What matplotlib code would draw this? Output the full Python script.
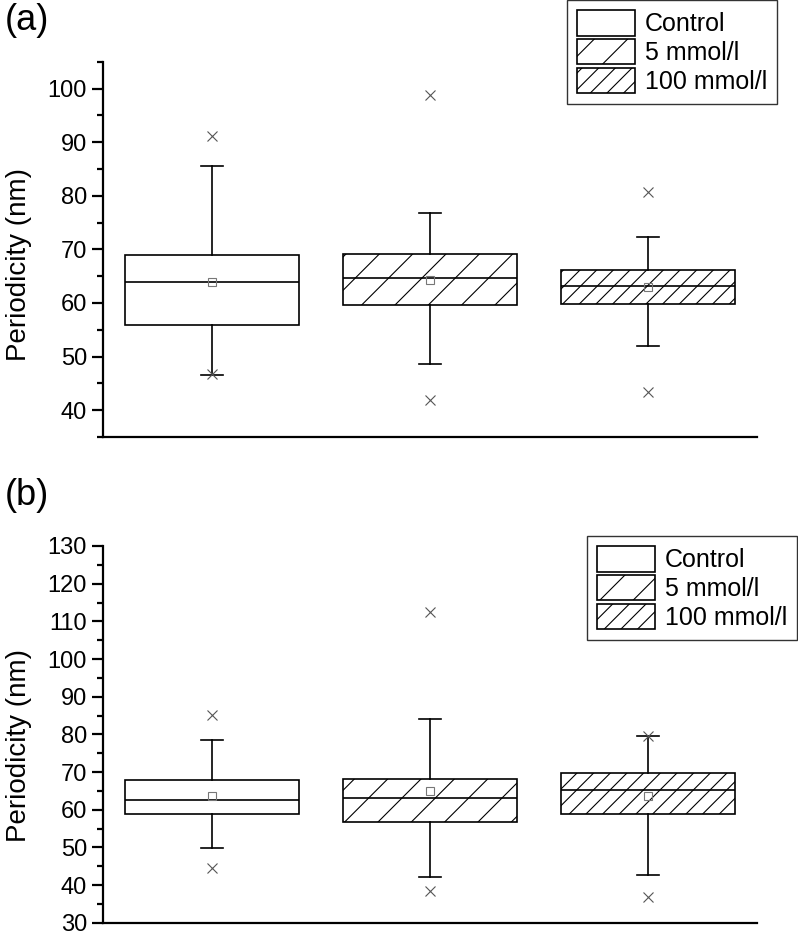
import matplotlib
matplotlib.use('Agg')
import matplotlib.pyplot as plt
from matplotlib.patches import Patch
from matplotlib.ticker import MultipleLocator

plt.rcParams['font.family'] = ['Liberation Sans', 'DejaVu Sans']
plt.rcParams['hatch.linewidth'] = 0.8

groups = ['Control', '5 mmol/l', '100 mmol/l']
hatches = ['', '/', '//']

# Panel (a)
a_q1 = [55.8, 59.7, 59.8]
a_med = [63.9, 64.6, 63.1]
a_q3 = [69.0, 69.2, 66.2]
a_whislo = [46.6, 48.7, 51.9]
a_whishi = [85.6, 76.8, 72.3]
a_mean = [64.0, 64.3, 63.0]
a_fliers = [[46.7, 91.1], [41.9, 98.7], [43.4, 80.7]]

# Panel (b)
b_q1 = [58.8, 56.7, 58.9]
b_med = [62.5, 63.1, 65.1]
b_q3 = [67.9, 68.1, 69.8]
b_whislo = [49.8, 42.2, 42.7]
b_whishi = [78.4, 84.1, 79.5]
b_mean = [63.6, 65.0, 63.7]
b_fliers = [[44.5, 85.1], [38.5, 112.4], [36.9, 79.6]]

W, H = 798, 931
fig = plt.figure(figsize=(W / 100, H / 100), dpi=100)


def make_stats(q1, med, q3, lo, hi, mean, fliers):
    return [dict(q1=q1[i], med=med[i], q3=q3[i], whislo=lo[i], whishi=hi[i],
                 mean=mean[i], fliers=fliers[i], label=groups[i])
            for i in range(len(groups))]


def draw(ax, stats, ylim, major, minor, leg_anchor, label_y):
    lw = 1.2
    art = ax.bxp(stats, positions=[1, 2, 3], widths=0.8, capwidths=0.1,
                 patch_artist=True, showmeans=True,
                 boxprops=dict(facecolor='white', edgecolor='black', linewidth=lw),
                 medianprops=dict(color='black', linewidth=lw),
                 whiskerprops=dict(color='black', linewidth=lw),
                 capprops=dict(color='black', linewidth=lw),
                 meanprops=dict(marker='s', markerfacecolor='none',
                                markeredgecolor='#777777', markersize=5.5,
                                markeredgewidth=0.8),
                 flierprops=dict(marker='x', markeredgecolor='#555555',
                                 markersize=7.5, markeredgewidth=0.8,
                                 linestyle='none'))
    for b, h in zip(art['boxes'], hatches):
        b.set_hatch(h)
    ax.set_xlim(0.5, 3.5)
    ax.set_ylim(*ylim)
    ax.yaxis.set_major_locator(MultipleLocator(major))
    ax.yaxis.set_minor_locator(MultipleLocator(minor))
    ax.set_xticks([])
    for s in ['top', 'right']:
        ax.spines[s].set_visible(False)
    for s in ['left', 'bottom']:
        ax.spines[s].set_linewidth(1.6)
    ax.tick_params(axis='y', which='major', length=8, width=1.6,
                   labelsize=17, pad=3.5)
    ax.tick_params(axis='y', which='minor', length=4, width=1.6)
    ax.set_ylabel('Periodicity (nm)', fontsize=20)
    ax.yaxis.set_label_coords(-0.108, label_y)
    handles = [Patch(facecolor='white', edgecolor='black', hatch=h,
                     linewidth=1.2, label=g) for g, h in zip(groups, hatches)]
    leg = ax.legend(handles=handles, loc='upper right',
                    bbox_to_anchor=leg_anchor, bbox_transform=fig.transFigure,
                    borderaxespad=0, fontsize=18, frameon=True, fancybox=False,
                    handlelength=2.3, handleheight=1.2, handletextpad=0.4,
                    labelspacing=0.1, borderpad=0.4, framealpha=1)
    leg.get_frame().set_edgecolor('#333333')
    leg.get_frame().set_linewidth(1.0)


ax_a = fig.add_axes([103 / W, 1 - 437 / H, (757 - 103) / W, (437 - 61.7) / H])
draw(ax_a, make_stats(a_q1, a_med, a_q3, a_whislo, a_whishi, a_mean, a_fliers),
     (35, 105), 10, 5, (777 / W, 1.0), 0.46)

ax_b = fig.add_axes([103 / W, 1 - 922.7 / H, (757 - 103) / W, (922.7 - 546) / H])
draw(ax_b, make_stats(b_q1, b_med, b_q3, b_whislo, b_whishi, b_mean, b_fliers),
     (30, 130), 10, 5, (797 / W, 1 - 536 / H), 0.47)

fig.text(5 / W, 1 - 3 / H, '(a)', fontsize=26, ha='left', va='top')
fig.text(5 / W, 1 - 478 / H, '(b)', fontsize=26, ha='left', va='top')

fig.savefig('out.png', dpi=100)
